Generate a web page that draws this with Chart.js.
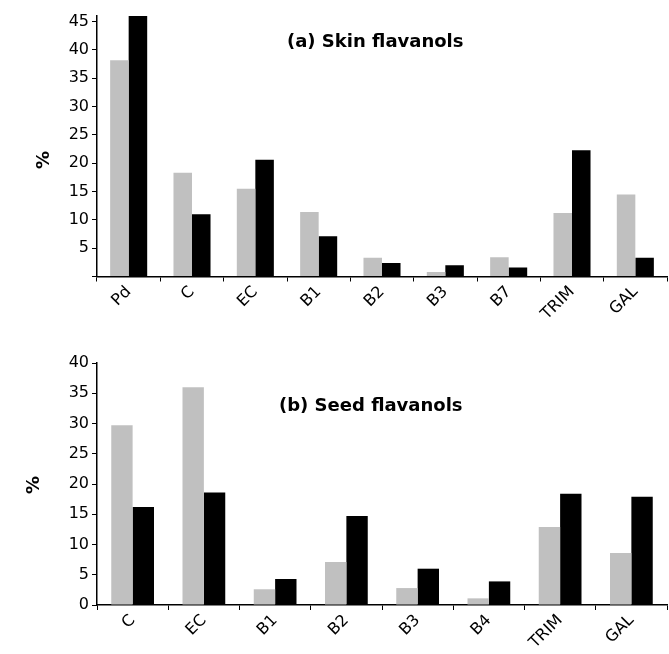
<!DOCTYPE html>
<html>
<head>
<meta charset="utf-8">
<script src="https://cdn.jsdelivr.net/npm/chart.js@4/dist/chart.umd.min.js"></script>
<style>
  html, body { margin: 0; padding: 0; background: #fff; }
  body { width: 669px; height: 654px; position: relative; overflow: hidden; font-family: "DejaVu Sans", sans-serif; }
  canvas { position: absolute; left: 0; }
  #skin { top: 0; }
  #seed { top: 325px; }
  .panel-title { position: absolute; font-weight: bold; font-size: 18px; color: #000; white-space: nowrap; line-height: 18px; }
  .y-title { position: absolute; font-weight: bold; font-size: 18px; color: #000; line-height: 18px; width: 30px; text-align: center; transform: rotate(-90deg); }
</style>
</head>
<body>
<canvas id="skin" width="669" height="325"></canvas>
<canvas id="seed" width="669" height="329"></canvas>
<div class="panel-title" style="left:287px; top:32px;">(a) Skin flavanols</div>
<div class="panel-title" style="left:279px; top:396px;">(b) Seed flavanols</div>
<div class="y-title" style="left:28px; top:151px;">%</div>
<div class="y-title" style="left:18px; top:476px;">%</div>
<script>
// Skin flavanol composition (%)
const skinCategories = ['Pd', 'C', 'EC', 'B1', 'B2', 'B3', 'B7', 'TRIM', 'GAL'];
const skinGrey  = [38.2, 18.3, 15.5, 11.4, 3.3, 0.8, 3.4, 11.2, 14.5];
const skinBlack = [46.3, 11.0, 20.6, 7.1, 2.4, 2.0, 1.6, 22.3, 3.3];

// Seed flavanol composition (%)
const seedCategories = ['C', 'EC', 'B1', 'B2', 'B3', 'B4', 'TRIM', 'GAL'];
const seedGrey  = [29.7, 36.0, 2.6, 7.1, 2.8, 1.1, 12.9, 8.6];
const seedBlack = [16.2, 18.6, 4.3, 14.7, 6.0, 3.9, 18.4, 17.9];

const GREY = '#c0c0c0';
const BLACK = '#000000';
const FONT = 'DejaVu Sans, sans-serif';

function makeChart(id, labels, grey, black, yMax, hideZero, areaTop, areaBottom, catPct) {
  const canvas = document.getElementById(id);
  const axisLeft = 97;
  return new Chart(canvas, {
    type: 'bar',
    data: {
      labels: labels,
      datasets: [
        { data: grey, backgroundColor: GREY, borderWidth: 0 },
        { data: black, backgroundColor: BLACK, borderWidth: 0 }
      ]
    },
    options: {
      responsive: false,
      animation: false,
      devicePixelRatio: 1,
      layout: { padding: { left: 0, right: 2, top: areaTop, bottom: 0 } },
      plugins: { legend: { display: false }, tooltip: { enabled: false }, title: { display: false } },
      datasets: { bar: { categoryPercentage: catPct, barPercentage: 1.0 } },
      scales: {
        x: {
          offset: true,
          grid: { display: true, drawOnChartArea: false, drawTicks: true, tickLength: 5, color: BLACK, offset: true },
          border: { display: true, color: BLACK, width: 1.5 },
          ticks: {
            color: BLACK, font: { family: FONT, size: 16 },
            minRotation: 45, maxRotation: 45, padding: 1, autoSkip: false
          },
          afterFit: function (scale) { scale.height = canvas.height - areaBottom; }
        },
        y: {
          min: 0, max: yMax,
          grid: { display: true, drawOnChartArea: false, drawTicks: true, tickLength: 5, color: BLACK },
          border: { display: true, color: BLACK, width: 1.5 },
          ticks: {
            stepSize: 5, includeBounds: false, color: BLACK, padding: 3,
            font: { family: FONT, size: 16 },
            callback: function (v) { return (hideZero && v === 0) ? '' : String(v); }
          },
          afterFit: function (scale) { scale.width = axisLeft; }
        }
      }
    }
  });
}

makeChart('skin', skinCategories, skinGrey, skinBlack, 46, true, 16, 276.5, 0.585);
makeChart('seed', seedCategories, seedGrey, seedBlack, 40, false, 38, 280, 0.6);
</script>
</body>
</html>
